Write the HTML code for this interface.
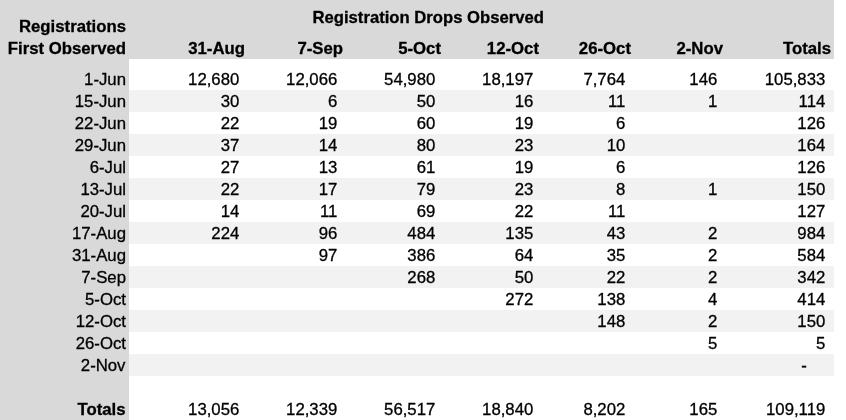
<!DOCTYPE html>
<html><head><meta charset="utf-8"><title>Registration Drops Observed</title>
<style>
html,body{margin:0;padding:0;background:#fff;}
body{width:846px;height:420px;position:relative;overflow:hidden;font-family:"Liberation Sans",Arial,Helvetica,sans-serif;font-size:16.75px;line-height:22px;color:#000;}
.g{position:absolute;background:#d9d9d9;}
.s{position:absolute;background:#f2f2f2;left:129px;width:705px;height:22px;}
.t{position:absolute;white-space:nowrap;text-align:right;height:22px;-webkit-text-stroke:0.3px #000;}
.b{font-weight:bold;}
</style></head><body>
<div class="g" style="left:0;top:0;width:834px;height:59px"></div>
<div class="g" style="left:0;top:59px;width:129px;height:361px"></div>
<div class="s" style="top:90px"></div>
<div class="s" style="top:134px"></div>
<div class="s" style="top:178px"></div>
<div class="s" style="top:222px"></div>
<div class="s" style="top:266px"></div>
<div class="s" style="top:310px"></div>
<div class="s" style="top:354px"></div>
<div class="t b" style="left:312.5px;top:7px;font-size:16.67px">Registration Drops Observed</div>
<div class="t b" style="right:720px;top:16px">Registrations</div>
<div class="t b" style="right:720px;top:38px">First Observed</div>
<div class="t b" style="right:601px;top:38px">31-Aug</div>
<div class="t b" style="right:503px;top:38px">7-Sep</div>
<div class="t b" style="right:405px;top:38px">5-Oct</div>
<div class="t b" style="right:307px;top:38px">12-Oct</div>
<div class="t b" style="right:215px;top:38px">26-Oct</div>
<div class="t b" style="right:123px;top:38px">2-Nov</div>
<div class="t b" style="right:15px;top:38px">Totals</div>
<div class="t" style="right:720px;top:69px">1-Jun</div>
<div class="t" style="right:606.7px;top:69px">12,680</div>
<div class="t" style="right:508.7px;top:69px">12,066</div>
<div class="t" style="right:410.7px;top:69px">54,980</div>
<div class="t" style="right:312.7px;top:69px">18,197</div>
<div class="t" style="right:220.7px;top:69px">7,764</div>
<div class="t" style="right:128.7px;top:69px">146</div>
<div class="t" style="right:20.7px;top:69px">105,833</div>
<div class="t" style="right:720px;top:91px">15-Jun</div>
<div class="t" style="right:606.7px;top:91px">30</div>
<div class="t" style="right:508.7px;top:91px">6</div>
<div class="t" style="right:410.7px;top:91px">50</div>
<div class="t" style="right:312.7px;top:91px">16</div>
<div class="t" style="right:220.7px;top:91px">11</div>
<div class="t" style="right:128.7px;top:91px">1</div>
<div class="t" style="right:20.7px;top:91px">114</div>
<div class="t" style="right:720px;top:113px">22-Jun</div>
<div class="t" style="right:606.7px;top:113px">22</div>
<div class="t" style="right:508.7px;top:113px">19</div>
<div class="t" style="right:410.7px;top:113px">60</div>
<div class="t" style="right:312.7px;top:113px">19</div>
<div class="t" style="right:220.7px;top:113px">6</div>
<div class="t" style="right:20.7px;top:113px">126</div>
<div class="t" style="right:720px;top:135px">29-Jun</div>
<div class="t" style="right:606.7px;top:135px">37</div>
<div class="t" style="right:508.7px;top:135px">14</div>
<div class="t" style="right:410.7px;top:135px">80</div>
<div class="t" style="right:312.7px;top:135px">23</div>
<div class="t" style="right:220.7px;top:135px">10</div>
<div class="t" style="right:20.7px;top:135px">164</div>
<div class="t" style="right:720px;top:157px">6-Jul</div>
<div class="t" style="right:606.7px;top:157px">27</div>
<div class="t" style="right:508.7px;top:157px">13</div>
<div class="t" style="right:410.7px;top:157px">61</div>
<div class="t" style="right:312.7px;top:157px">19</div>
<div class="t" style="right:220.7px;top:157px">6</div>
<div class="t" style="right:20.7px;top:157px">126</div>
<div class="t" style="right:720px;top:179px">13-Jul</div>
<div class="t" style="right:606.7px;top:179px">22</div>
<div class="t" style="right:508.7px;top:179px">17</div>
<div class="t" style="right:410.7px;top:179px">79</div>
<div class="t" style="right:312.7px;top:179px">23</div>
<div class="t" style="right:220.7px;top:179px">8</div>
<div class="t" style="right:128.7px;top:179px">1</div>
<div class="t" style="right:20.7px;top:179px">150</div>
<div class="t" style="right:720px;top:201px">20-Jul</div>
<div class="t" style="right:606.7px;top:201px">14</div>
<div class="t" style="right:508.7px;top:201px">11</div>
<div class="t" style="right:410.7px;top:201px">69</div>
<div class="t" style="right:312.7px;top:201px">22</div>
<div class="t" style="right:220.7px;top:201px">11</div>
<div class="t" style="right:20.7px;top:201px">127</div>
<div class="t" style="right:720px;top:223px">17-Aug</div>
<div class="t" style="right:606.7px;top:223px">224</div>
<div class="t" style="right:508.7px;top:223px">96</div>
<div class="t" style="right:410.7px;top:223px">484</div>
<div class="t" style="right:312.7px;top:223px">135</div>
<div class="t" style="right:220.7px;top:223px">43</div>
<div class="t" style="right:128.7px;top:223px">2</div>
<div class="t" style="right:20.7px;top:223px">984</div>
<div class="t" style="right:720px;top:245px">31-Aug</div>
<div class="t" style="right:508.7px;top:245px">97</div>
<div class="t" style="right:410.7px;top:245px">386</div>
<div class="t" style="right:312.7px;top:245px">64</div>
<div class="t" style="right:220.7px;top:245px">35</div>
<div class="t" style="right:128.7px;top:245px">2</div>
<div class="t" style="right:20.7px;top:245px">584</div>
<div class="t" style="right:720px;top:267px">7-Sep</div>
<div class="t" style="right:410.7px;top:267px">268</div>
<div class="t" style="right:312.7px;top:267px">50</div>
<div class="t" style="right:220.7px;top:267px">22</div>
<div class="t" style="right:128.7px;top:267px">2</div>
<div class="t" style="right:20.7px;top:267px">342</div>
<div class="t" style="right:720px;top:289px">5-Oct</div>
<div class="t" style="right:312.7px;top:289px">272</div>
<div class="t" style="right:220.7px;top:289px">138</div>
<div class="t" style="right:128.7px;top:289px">4</div>
<div class="t" style="right:20.7px;top:289px">414</div>
<div class="t" style="right:720px;top:311px">12-Oct</div>
<div class="t" style="right:220.7px;top:311px">148</div>
<div class="t" style="right:128.7px;top:311px">2</div>
<div class="t" style="right:20.7px;top:311px">150</div>
<div class="t" style="right:720px;top:333px">26-Oct</div>
<div class="t" style="right:128.7px;top:333px">5</div>
<div class="t" style="right:20.7px;top:333px">5</div>
<div class="t" style="right:720.5px;top:355px">2-Nov</div>
<div class="t" style="right:39.3px;top:355px">-</div>
<div class="t b" style="right:720.5px;top:399px">Totals</div>
<div class="t" style="right:606.7px;top:399px">13,056</div>
<div class="t" style="right:508.7px;top:399px">12,339</div>
<div class="t" style="right:410.7px;top:399px">56,517</div>
<div class="t" style="right:312.7px;top:399px">18,840</div>
<div class="t" style="right:220.7px;top:399px">8,202</div>
<div class="t" style="right:128.7px;top:399px">165</div>
<div class="t" style="right:20.7px;top:399px">109,119</div>
</body></html>
